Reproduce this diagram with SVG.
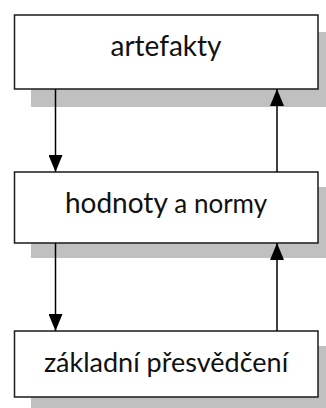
<svg xmlns="http://www.w3.org/2000/svg" width="326" height="408" viewBox="0 0 326 408">
<style>
.sh{fill:#c0c0c0}
.bx{fill:#fff;stroke:#1a1a1a;stroke-width:1.5}
.t{font-family:Lato,"Open Sans",sans-serif;fill:#111;text-anchor:middle}
.ln{stroke:#000;stroke-width:1.5;fill:none}
</style>
<defs>
<marker id="ah" viewBox="0 0 17 14" refX="17" refY="7" markerWidth="17" markerHeight="14" markerUnits="userSpaceOnUse" orient="auto">
<path d="M0,0 L17,7 L0,14 Z" fill="#000"/>
</marker>
</defs>
<g id="shadows">
<rect class="sh" x="31" y="32" width="295" height="75"/>
<rect class="sh" x="31" y="187" width="295" height="71"/>
<rect class="sh" x="31" y="346" width="295" height="62"/>
</g>
<g id="artefakty">
<rect class="bx" x="14.5" y="15" width="303.5" height="74"/>
<text class="t" x="166" y="56" font-size="28">artefakty</text>
</g>
<g id="hodnoty">
<rect class="bx" x="14.5" y="172" width="303.5" height="71"/>
<text class="t" x="166" y="213" font-size="28">hodnoty <tspan font-size="26">a normy</tspan></text>
</g>
<g id="zakladni">
<rect class="bx" x="14.5" y="331" width="303.5" height="66"/>
<text class="t" x="166" y="372" font-size="27">základní přesvědčení</text>
</g>
<g id="connectors">
<line class="ln" x1="55.5" y1="89" x2="55.5" y2="172" marker-end="url(#ah)"/>
<line class="ln" x1="277" y1="172" x2="277" y2="89" marker-end="url(#ah)"/>
<line class="ln" x1="55.5" y1="243" x2="55.5" y2="331" marker-end="url(#ah)"/>
<line class="ln" x1="277" y1="331" x2="277" y2="243" marker-end="url(#ah)"/>
</g>
</svg>
